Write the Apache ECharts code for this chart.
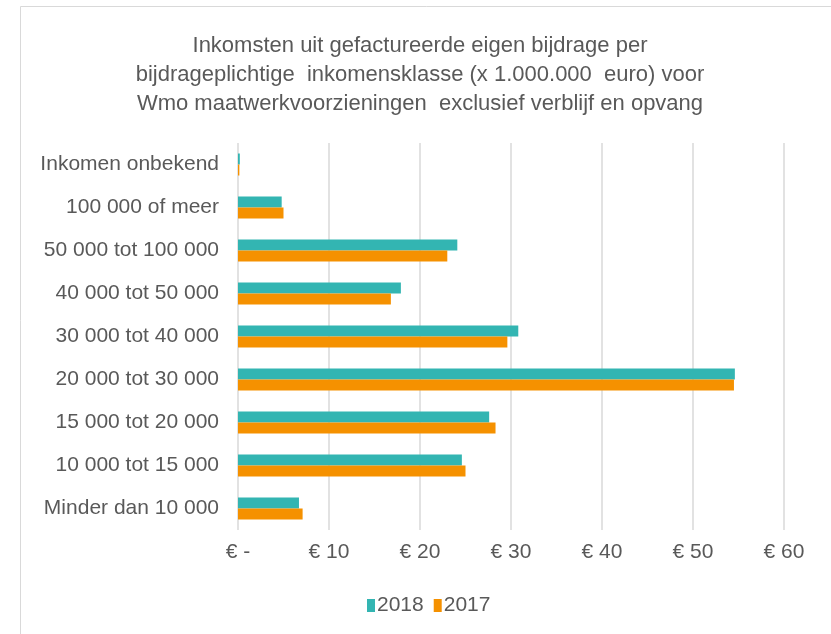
<!DOCTYPE html>
<html>
<head>
<meta charset="utf-8">
<script src="https://cdn.jsdelivr.net/npm/echarts@6/dist/echarts.min.js"></script>
<style>
  html, body { margin: 0; padding: 0; background: #fff; }
  #chart { width: 831px; height: 634px; }
</style>
</head>
<body>
<div id="chart"></div>
<script>
  // categorieën van onder naar boven (as begint onderaan)
  const categories = ['Minder dan 10 000', '10 000 tot 15 000', '15 000 tot 20 000', '20 000 tot 30 000',
    '30 000 tot 40 000', '40 000 tot 50 000', '50 000 tot 100 000', '100 000 of meer', 'Inkomen onbekend']
  const data2018 = [6.7, 24.6, 27.6, 54.6, 30.8, 17.9, 24.1, 4.8, 0.2]
  const data2017 = [7.1, 25.0, 28.3, 54.5, 29.6, 16.8, 23.0, 5.0, 0.15]
  const xTicks = [0, 10, 20, 30, 40, 50, 60]

  const font = 'Liberation Sans, Arial, sans-serif'
  const textColor = '#595959'

  const chart = echarts.init(document.getElementById('chart'))
  chart.setOption({
    animation: false,
    title: {
      text: 'Inkomsten uit gefactureerde eigen bijdrage per\nbijdrageplichtige  inkomensklasse (x 1.000.000  euro) voor\nWmo maatwerkvoorzieningen  exclusief verblijf en opvang',
      left: 415,
      top: 26,
      textAlign: 'center',
      textStyle: { fontFamily: font, fontSize: 22, fontWeight: 'normal', color: textColor, lineHeight: 29 }
    },
    graphic: [{
      type: 'rect',
      shape: { x: 20.5, y: 6.5, width: 830, height: 640 },
      style: { fill: 'none', stroke: '#d9d9d9', lineWidth: 1 },
      silent: true
    }],
    legend: {
      data: ['2018', '2017'],
      top: 590,
      left: 362,
      itemWidth: 8,
      itemHeight: 13,
      itemGap: 10,
      icon: 'rect',
      textStyle: { fontFamily: font, fontSize: 21, color: textColor, padding: [0, 0, 0, -3] }
    },
    grid: { left: 238, right: 47, top: 143, bottom: 104 },
    xAxis: {
      type: 'value',
      min: xTicks[0],
      max: xTicks[xTicks.length - 1],
      interval: 10,
      axisLine: { show: false },
      axisTick: { show: false },
      splitLine: { lineStyle: { color: '#d9d9d9', width: 1.5 } },
      axisLabel: {
        margin: 12,
        fontFamily: font,
        fontSize: 21,
        color: textColor,
        formatter: function (v) { return v === 0 ? '€ -' : '€ ' + v }
      }
    },
    yAxis: {
      type: 'category',
      data: categories,
      axisLine: { show: false },
      axisTick: { show: false },
      axisLabel: { margin: 19, fontFamily: font, fontSize: 21, color: textColor }
    },
    series: [
      {
        name: '2018',
        type: 'bar',
        data: data2018,
        barWidth: 11,
        barGap: '0%',
        itemStyle: { color: '#33b5b2' }
      },
      {
        name: '2017',
        type: 'bar',
        data: data2017,
        barWidth: 11,
        barGap: '0%',
        itemStyle: { color: '#f59100' }
      }
    ]
  })
</script>
</body>
</html>
